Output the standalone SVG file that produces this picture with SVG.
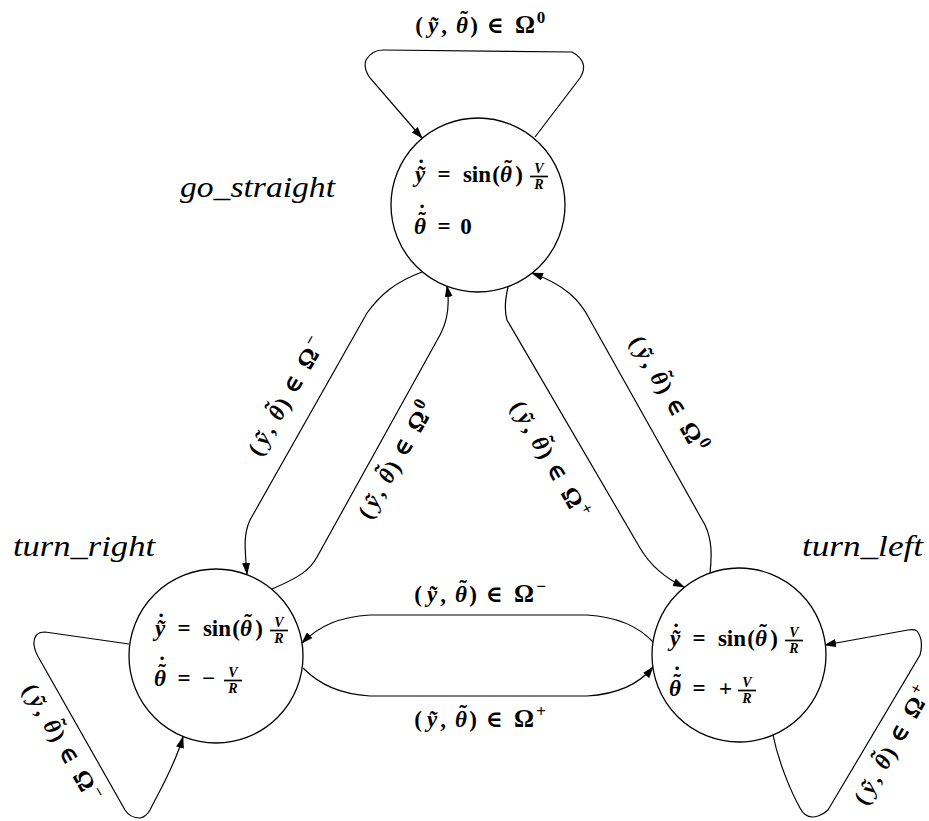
<svg xmlns="http://www.w3.org/2000/svg" width="929" height="821" viewBox="0 0 929 821">
<defs>
<marker id="ah" viewBox="0 0 12 8" refX="11" refY="4" markerWidth="12" markerHeight="8" markerUnits="userSpaceOnUse" orient="auto"><path d="M0,0 L12,4 L0,8 z" fill="#000"/></marker>
<style>
.c{fill:#fff;stroke:#000;stroke-width:1.3}
.e{fill:none;stroke:#000;stroke-width:1.2;marker-end:url(#ah)}
.mr{font-family:"Liberation Serif","DejaVu Serif",serif;font-size:23px;font-weight:bold;text-anchor:middle;fill:#000}
.i{font-style:italic}
.o{font-size:25px}
.s{font-size:17px}
.n{font-family:"Liberation Serif","DejaVu Serif",serif;font-style:italic;font-size:29px;fill:#000}
.f{font-family:"Liberation Serif","DejaVu Serif",serif;font-size:14px;font-weight:bold;font-style:italic;text-anchor:middle;fill:#000}
.b{stroke:#000;stroke-width:1.7}
</style>
</defs>
<rect width="929" height="821" fill="#fff"/>

<g id="connectors">
<path id="e_loop_gs" class="e" d="M535,137 L580,78 Q590,62 572,52 L383,50 Q372,50 366,60 Q363,68 370,78 L422,138"/>
<path id="e_gs_tr" class="e" d="M422,272 C395,282 380,295 367,313 L250,520 C243,535 245,550 247,574"/>
<path id="e_tr_gs" class="e" d="M272,589 C300,577 310,570 317,557 L440,335 C448,320 450,305 447,286"/>
<path id="e_gs_tl" class="e" d="M508,287 C505,300 504,310 507,320 L640,548 C650,565 665,578 684,587"/>
<path id="e_tl_gs" class="e" d="M710,573 C712,555 712,540 705,525 L590,320 C580,300 565,285 532,273"/>
<path id="e_tl_tr" class="e" d="M653,642 C640,628 620,617 587,615 L370,615 C340,617 320,625 302,643"/>
<path id="e_tr_tl" class="e" d="M303,668 C320,685 340,694 370,696 L587,696 C620,694 640,683 653,667"/>
<path id="e_loop_tr" class="e" d="M129,644 L45,632 Q33,632 34,645 Q35,652 40,660 L125,810 Q130,818 140,818 Q146,817 150,810 C160,790 175,765 183,737"/>
<path id="e_loop_tl" class="e" d="M773,735 C778,760 790,790 800,808 Q806,820 818,816 Q824,814 828,810 L920,655 Q924,640 917,631 Q914,629 908,630 L825,645"/>

<text class="mr" transform="translate(481,33)"><tspan x="-62">(</tspan><tspan class="i" x="-48">ỹ</tspan><tspan x="-37">,</tspan><tspan class="i" x="-19">θ</tspan><tspan x="-17" y="-6">˜</tspan><tspan x="-7" y="0">)</tspan><tspan x="14">∈</tspan><tspan class="o" x="44">Ω</tspan><tspan class="s" x="60" y="-10">0</tspan></text>
<text class="mr" transform="translate(480,602)"><tspan x="-62">(</tspan><tspan class="i" x="-48">ỹ</tspan><tspan x="-37">,</tspan><tspan class="i" x="-19">θ</tspan><tspan x="-17" y="-6">˜</tspan><tspan x="-7" y="0">)</tspan><tspan x="14">∈</tspan><tspan class="o" x="44">Ω</tspan><tspan class="s" x="61" y="-10">−</tspan></text>
<text class="mr" transform="translate(480,727)"><tspan x="-62">(</tspan><tspan class="i" x="-48">ỹ</tspan><tspan x="-37">,</tspan><tspan class="i" x="-19">θ</tspan><tspan x="-17" y="-6">˜</tspan><tspan x="-7" y="0">)</tspan><tspan x="14">∈</tspan><tspan class="o" x="44">Ω</tspan><tspan class="s" x="61" y="-10">+</tspan></text>
<text class="mr" transform="translate(287,397) rotate(-60) translate(0,7)"><tspan x="-62">(</tspan><tspan class="i" x="-48">ỹ</tspan><tspan x="-37">,</tspan><tspan class="i" x="-19">θ</tspan><tspan x="-17" y="-6">˜</tspan><tspan x="-7" y="0">)</tspan><tspan x="14">∈</tspan><tspan class="o" x="44">Ω</tspan><tspan class="s" x="61" y="-10">−</tspan></text>
<text class="mr" transform="translate(397,460) rotate(-60) translate(0,7)"><tspan x="-62">(</tspan><tspan class="i" x="-48">ỹ</tspan><tspan x="-37">,</tspan><tspan class="i" x="-19">θ</tspan><tspan x="-17" y="-6">˜</tspan><tspan x="-7" y="0">)</tspan><tspan x="14">∈</tspan><tspan class="o" x="44">Ω</tspan><tspan class="s" x="60" y="-10">0</tspan></text>
<text class="mr" transform="translate(668,395) rotate(60) translate(0,7)"><tspan x="-62">(</tspan><tspan class="i" x="-48">ỹ</tspan><tspan x="-37">,</tspan><tspan class="i" x="-19">θ</tspan><tspan x="-17" y="-6">˜</tspan><tspan x="-7" y="0">)</tspan><tspan x="14">∈</tspan><tspan class="o" x="44">Ω</tspan><tspan class="s" x="60" y="-10">0</tspan></text>
<text class="mr" transform="translate(549,460) rotate(60) translate(0,7)"><tspan x="-62">(</tspan><tspan class="i" x="-48">ỹ</tspan><tspan x="-37">,</tspan><tspan class="i" x="-19">θ</tspan><tspan x="-17" y="-6">˜</tspan><tspan x="-7" y="0">)</tspan><tspan x="14">∈</tspan><tspan class="o" x="44">Ω</tspan><tspan class="s" x="61" y="-10">+</tspan></text>
<text class="mr" transform="translate(61,743) rotate(60) translate(0,7)"><tspan x="-62">(</tspan><tspan class="i" x="-48">ỹ</tspan><tspan x="-37">,</tspan><tspan class="i" x="-19">θ</tspan><tspan x="-17" y="-6">˜</tspan><tspan x="-7" y="0">)</tspan><tspan x="14">∈</tspan><tspan class="o" x="44">Ω</tspan><tspan class="s" x="61" y="-10">−</tspan></text>
<text class="mr" transform="translate(893,746) rotate(-60) translate(0,7)"><tspan x="-62">(</tspan><tspan class="i" x="-48">ỹ</tspan><tspan x="-37">,</tspan><tspan class="i" x="-19">θ</tspan><tspan x="-17" y="-6">˜</tspan><tspan x="-7" y="0">)</tspan><tspan x="14">∈</tspan><tspan class="o" x="44">Ω</tspan><tspan class="s" x="61" y="-10">+</tspan></text>
</g>

<g id="go_straight">
<circle class="c" cx="478" cy="205" r="87"/>
<text class="n" x="180" y="197" textLength="155" lengthAdjust="spacingAndGlyphs">go_straight</text>
<text class="mr" transform="translate(413,182)"><tspan class="i" x="7">ỹ</tspan><tspan x="8" y="-6">˙</tspan><tspan x="31" y="0">=</tspan><tspan x="64">sin</tspan><tspan x="83">(</tspan><tspan class="i" x="93">θ</tspan><tspan x="95" y="-6">˜</tspan><tspan x="106" y="0">)</tspan></text>
<text class="f" x="539" y="173">V</text>
<line class="b" x1="530" y1="176.5" x2="548" y2="176.5"/>
<text class="f" x="539" y="189">R</text>
<text class="mr" transform="translate(413,234)"><tspan class="i" x="7">θ</tspan><tspan x="9" y="-6">˜</tspan><tspan x="9" y="-13">˙</tspan><tspan x="31" y="0">=</tspan><tspan x="53">0</tspan></text>
</g>

<g id="turn_right">
<circle class="c" cx="216" cy="656" r="87"/>
<text class="n" x="13" y="556" textLength="142" lengthAdjust="spacingAndGlyphs">turn_right</text>
<text class="mr" transform="translate(153,636)"><tspan class="i" x="7">ỹ</tspan><tspan x="8" y="-6">˙</tspan><tspan x="31" y="0">=</tspan><tspan x="64">sin</tspan><tspan x="83">(</tspan><tspan class="i" x="93">θ</tspan><tspan x="95" y="-6">˜</tspan><tspan x="106" y="0">)</tspan></text>
<text class="f" x="279" y="627">V</text>
<line class="b" x1="270" y1="630.5" x2="288" y2="630.5"/>
<text class="f" x="279" y="643">R</text>
<text class="mr" transform="translate(153,686)"><tspan class="i" x="7">θ</tspan><tspan x="9" y="-6">˜</tspan><tspan x="9" y="-13">˙</tspan><tspan x="31" y="0">=</tspan><tspan x="55.5">−</tspan></text>
<text class="f" x="233" y="677">V</text>
<line class="b" x1="224" y1="680.5" x2="242" y2="680.5"/>
<text class="f" x="233" y="693">R</text>
</g>

<g id="turn_left">
<circle class="c" cx="739" cy="655" r="87"/>
<text class="n" x="802" y="556" textLength="121" lengthAdjust="spacingAndGlyphs">turn_left</text>
<text class="mr" transform="translate(668,646)"><tspan class="i" x="7">ỹ</tspan><tspan x="8" y="-6">˙</tspan><tspan x="31" y="0">=</tspan><tspan x="64">sin</tspan><tspan x="83">(</tspan><tspan class="i" x="93">θ</tspan><tspan x="95" y="-6">˜</tspan><tspan x="106" y="0">)</tspan></text>
<text class="f" x="794" y="637">V</text>
<line class="b" x1="785" y1="640.5" x2="803" y2="640.5"/>
<text class="f" x="794" y="653">R</text>
<text class="mr" transform="translate(668,696)"><tspan class="i" x="7">θ</tspan><tspan x="9" y="-6">˜</tspan><tspan x="9" y="-13">˙</tspan><tspan x="31" y="0">=</tspan><tspan x="57.5">+</tspan></text>
<text class="f" x="747" y="687">V</text>
<line class="b" x1="738" y1="690.5" x2="756" y2="690.5"/>
<text class="f" x="747" y="703">R</text>
</g>
</svg>
